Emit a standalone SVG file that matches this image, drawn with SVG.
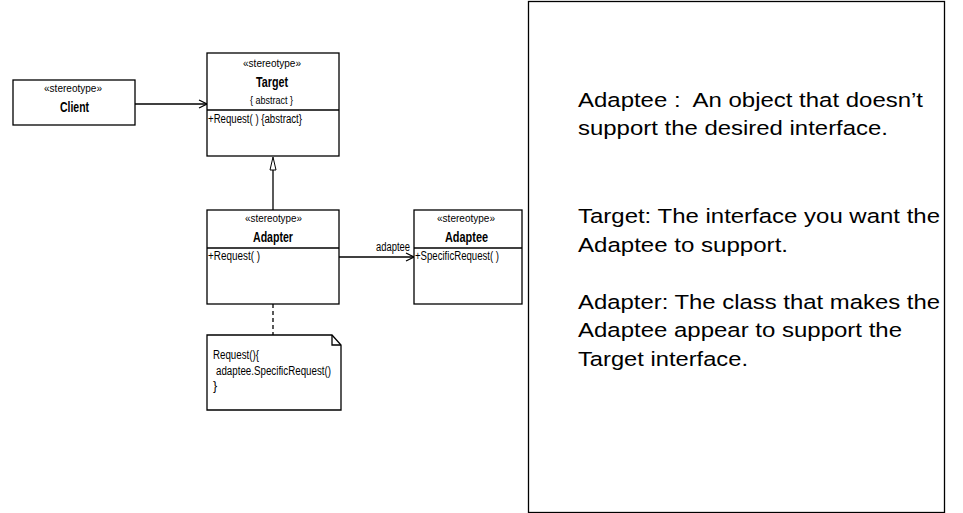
<svg xmlns="http://www.w3.org/2000/svg" width="963" height="513" viewBox="0 0 963 513">
<style>
.box{fill:#fff;stroke:#000;stroke-width:1.3}
.ln{stroke:#000;stroke-width:1.3;fill:none}
.st{font-family:"Liberation Sans",Arial,sans-serif;font-size:11.5px;text-anchor:middle}
.nm{font-family:"Liberation Sans",Arial,sans-serif;font-size:14px;font-weight:bold;text-anchor:middle}
.op{font-family:"Liberation Sans",Arial,sans-serif;font-size:12.5px}
.big{font-family:"Liberation Sans",Arial,sans-serif;font-size:20.5px}
</style>
<defs>
<marker id="open" markerWidth="10" markerHeight="10" refX="9" refY="5" orient="auto" markerUnits="userSpaceOnUse">
<path d="M1,1 L9,5 L1,9" fill="none" stroke="#000" stroke-width="1.2"/>
</marker>
</defs>
<rect x="0" y="0" width="963" height="513" fill="#fff"/>
<g id="connectors">
<line class="ln" x1="135" y1="104" x2="207" y2="104" marker-end="url(#open)"/>
<line class="ln" x1="273" y1="210" x2="273" y2="170"/>
<path d="M273,157 L276,170 L270,170 Z" fill="#fff" stroke="#000" stroke-width="1"/>
<line class="ln" x1="339" y1="257" x2="414" y2="257" marker-end="url(#open)"/>
<text class="op" x="376" y="251" textLength="34" lengthAdjust="spacingAndGlyphs">adaptee</text>
<line class="ln" x1="273" y1="304" x2="273" y2="335" stroke-dasharray="4,3"/>
</g>
<g id="client">
<rect class="box" x="13" y="80" width="122" height="45"/>
<text class="st" x="73" y="92" textLength="58" lengthAdjust="spacingAndGlyphs">«stereotype»</text>
<text class="nm" x="74.5" y="112" textLength="29" lengthAdjust="spacingAndGlyphs">Client</text>
</g>
<g id="target">
<rect class="box" x="207" y="53" width="132" height="103"/>
<line class="ln" x1="207" y1="110" x2="339" y2="110"/>
<text class="st" x="272" y="67" textLength="58" lengthAdjust="spacingAndGlyphs">«stereotype»</text>
<text class="nm" x="272" y="87" textLength="32" lengthAdjust="spacingAndGlyphs">Target</text>
<text class="st" x="271.5" y="104" textLength="43" lengthAdjust="spacingAndGlyphs">{ abstract }</text>
<text class="op" x="208" y="123" textLength="94" lengthAdjust="spacingAndGlyphs">+Request( ) {abstract}</text>
</g>
<g id="adapter">
<rect class="box" x="207" y="210" width="132" height="94"/>
<line class="ln" x1="207" y1="248" x2="339" y2="248"/>
<text class="st" x="273.5" y="222" textLength="57" lengthAdjust="spacingAndGlyphs">«stereotype»</text>
<text class="nm" x="273" y="242" textLength="40" lengthAdjust="spacingAndGlyphs">Adapter</text>
<text class="op" x="208" y="260" textLength="52" lengthAdjust="spacingAndGlyphs">+Request( )</text>
</g>
<g id="adaptee">
<rect class="box" x="414" y="210" width="108" height="94"/>
<line class="ln" x1="414" y1="248" x2="522" y2="248"/>
<text class="st" x="466" y="222" textLength="58" lengthAdjust="spacingAndGlyphs">«stereotype»</text>
<text class="nm" x="466.5" y="242" textLength="43" lengthAdjust="spacingAndGlyphs">Adaptee</text>
<text class="op" x="415" y="260" textLength="84" lengthAdjust="spacingAndGlyphs">+SpecificRequest( )</text>
</g>
<g id="note">
<path class="box" d="M207,335 L332,335 L341,345 L341,410 L207,410 Z"/>
<path class="ln" d="M332,335 L332,345 L341,345" stroke-width="1"/>
<text class="op" x="213" y="359" textLength="46" lengthAdjust="spacingAndGlyphs">Request(){</text>
<text class="op" x="216" y="375" textLength="115" lengthAdjust="spacingAndGlyphs">adaptee.SpecificRequest()</text>
<text class="op" x="213" y="390">}</text>
</g>
<g id="panel">
<rect x="528.5" y="1.5" width="416" height="511" fill="none" stroke="#000" stroke-width="1.3"/>
<text class="big" x="578" y="107" textLength="345" lengthAdjust="spacingAndGlyphs" xml:space="preserve">Adaptee :  An object that doesn’t</text>
<text class="big" x="578" y="135" textLength="310" lengthAdjust="spacingAndGlyphs">support the desired interface.</text>
<text class="big" x="578" y="223" textLength="362" lengthAdjust="spacingAndGlyphs">Target: The interface you want the</text>
<text class="big" x="578" y="252" textLength="210" lengthAdjust="spacingAndGlyphs">Adaptee to support.</text>
<text class="big" x="578" y="309" textLength="362" lengthAdjust="spacingAndGlyphs">Adapter: The class that makes the</text>
<text class="big" x="578" y="337" textLength="324" lengthAdjust="spacingAndGlyphs">Adaptee appear to support the</text>
<text class="big" x="578" y="366" textLength="170" lengthAdjust="spacingAndGlyphs">Target interface.</text>
</g>
</svg>
